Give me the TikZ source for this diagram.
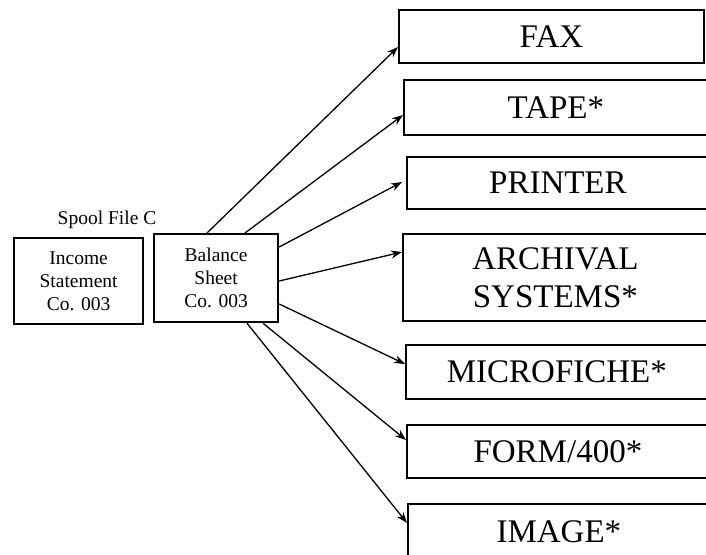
\documentclass[tikz,border=0pt]{standalone}
\usepackage{fontspec}
\setmainfont{Liberation Serif}
\usetikzlibrary{arrows.meta}
\begin{document}
\begin{tikzpicture}[x=1pt,y=-1pt,
  bigbox/.style={draw, line width=1.8pt, anchor=north west, inner sep=0pt, align=center,
    font=\fontsize{33}{38}\selectfont},
  smallbox/.style={draw, line width=2.2pt, anchor=north west, inner sep=0pt, align=center,
    font=\fontsize{19.5}{23}\selectfont},
  conn/.style={line width=1.3pt, -{Stealth[length=11pt,width=8pt]}}]
\useasboundingbox (0,0) rectangle (706,554);
\node[font=\fontsize{19.5}{22}\selectfont] (spool) at (107,220) {Spool File C};
\node[smallbox, minimum width=129pt, minimum height=86pt] (inc) at (13,237) {Income\\Statement\\Co. 003};
\node[smallbox, minimum width=124pt, minimum height=88pt] (bal) at (153,233) {Balance\\Sheet\\Co. 003};
\node[bigbox, minimum width=305pt, minimum height=53pt] (fax) at (398,9) {FAX};
\node[bigbox, minimum width=304pt, minimum height=55pt] (tape) at (403,79) {TAPE*};
\node[bigbox, minimum width=302pt, minimum height=52pt] (printer) at (406,156) {PRINTER};
\node[bigbox, minimum width=305pt, minimum height=87pt] (arch) at (402,233) {ARCHIVAL\\SYSTEMS*};
\node[bigbox, minimum width=302pt, minimum height=54pt] (micro) at (405,344) {MICROFICHE*};
\node[bigbox, minimum width=302pt, minimum height=53pt] (form) at (406,424) {FORM/400*};
\node[bigbox, minimum width=302pt, minimum height=56pt] (image) at (407,503) {IMAGE*};
% start points on Balance Sheet box
\path (bal.north west) ++(54,0) coordinate (s1);
\path (bal.north west) ++(92,0) coordinate (s2);
\path (bal.north east) ++(0,14) coordinate (s3);
\path (bal.north east) ++(0,48) coordinate (s4);
\path (bal.north east) ++(0,71) coordinate (s5);
\path (bal.south west) ++(110,0) coordinate (s6);
\path (bal.south west) ++(94,0) coordinate (s7);
% end points on target boxes
\path (fax.north west) ++(0,38) coordinate (e1);
\path (tape.north west) ++(0,36) coordinate (e2);
\path (printer.north west) ++(-4,26) coordinate (e3);
\path (arch.north west) ++(0,19) coordinate (e4);
\path (micro.north west) ++(0,20) coordinate (e5);
\path (form.north west) ++(0,16) coordinate (e6);
\path (image.north west) ++(0,20) coordinate (e7);
\draw[conn] (s1) -- (e1);
\draw[conn] (s2) -- (e2);
\draw[conn] (s3) -- (e3);
\draw[conn] (s4) -- (e4);
\draw[conn] (s5) -- (e5);
\draw[conn] (s6) -- (e6);
\draw[conn] (s7) -- (e7);
\end{tikzpicture}
\end{document}
